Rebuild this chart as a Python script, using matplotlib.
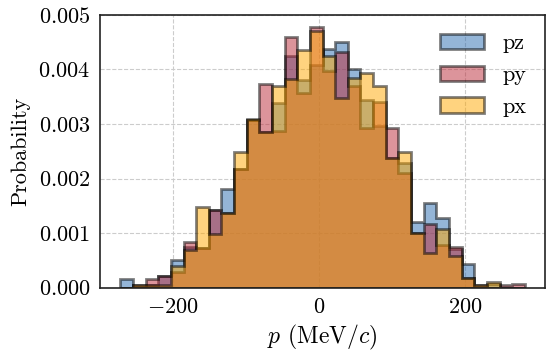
import numpy as np
import matplotlib
matplotlib.use('Agg')
import matplotlib.pyplot as plt

# ── DADOS ─────────────────────────────────────────────────────────────────────

# bordas comuns dos bins (MeV/c)
bordas = np.linspace(-272, 282, 33)

pz = [0.00015, 0.00000, 0.00005, 0.00021, 0.00050, 0.00075, 0.00072, 0.00143,
      0.00180, 0.00218, 0.00307, 0.00285, 0.00338, 0.00425, 0.00380, 0.00408,
      0.00437, 0.00450, 0.00401, 0.00344, 0.00296, 0.00238, 0.00229, 0.00121,
      0.00156, 0.00127, 0.00070, 0.00044, 0.00000, 0.00006, 0.00000, 0.00000]

py = [0.00000, 0.00005, 0.00015, 0.00021, 0.00028, 0.00084, 0.00072, 0.00143,
      0.00137, 0.00218, 0.00307, 0.00373, 0.00287, 0.00459, 0.00356, 0.00478,
      0.00398, 0.00432, 0.00369, 0.00293, 0.00340, 0.00293, 0.00210, 0.00101,
      0.00117, 0.00078, 0.00074, 0.00017, 0.00004, 0.00000, 0.00005, 0.00006]

px = [0.00000, 0.00005, 0.00005, 0.00005, 0.00039, 0.00069, 0.00147, 0.00098,
      0.00137, 0.00248, 0.00310, 0.00285, 0.00369, 0.00382, 0.00435, 0.00470,
      0.00424, 0.00347, 0.00384, 0.00393, 0.00369, 0.00238, 0.00248, 0.00101,
      0.00063, 0.00107, 0.00058, 0.00017, 0.00004, 0.00010, 0.00000, 0.00000]

series = [('pz', pz, '#2b6cb0'), ('py', py, '#bb2a38'), ('px', px, '#ffa800')]

# ── ESTILO ────────────────────────────────────────────────────────────────────

plt.rcParams['font.family'] = 'serif'
plt.rcParams['font.serif'] = ['cmr10', 'DejaVu Serif']
plt.rcParams['mathtext.fontset'] = 'cm'
plt.rcParams['axes.formatter.use_mathtext'] = True
plt.rcParams['font.size'] = 16

# ── PLOT ──────────────────────────────────────────────────────────────────────

fig, ax = plt.subplots(figsize=(5.5, 3.56), dpi=100)

centros = (bordas[:-1] + bordas[1:]) / 2
for nome, valores, cor in series:
    ax.hist(centros, bins=bordas, weights=valores, histtype='stepfilled',
            facecolor=cor, edgecolor='k', linewidth=2.0, alpha=0.5, label=nome)

ax.set_ylim(0, 0.005)
ax.set_xticks([-200, 0, 200])
ax.set_yticks([0, 0.001, 0.002, 0.003, 0.004, 0.005])
ax.yaxis.set_major_formatter(matplotlib.ticker.FormatStrFormatter('$%.3f$'))
ax.tick_params(length=0, pad=7, labelsize=16)
ax.grid(True, linestyle='--', color='#cccccc', linewidth=0.8)
ax.set_axisbelow(True)
for sp in ax.spines.values():
    sp.set_color('#222222')
    sp.set_linewidth(1.2)

ax.set_xlabel(r'$p$ (MeV/$c$)', fontsize=17, labelpad=4)
ax.set_ylabel('Probability', fontsize=16, labelpad=6)
ax.legend(loc='upper right', frameon=False, fontsize=16,
          handlelength=2.0, labelspacing=0.55, borderaxespad=0.45)

plt.subplots_adjust(left=0.182, right=0.991, top=0.958, bottom=0.192)
plt.savefig('out.png', dpi=100)
